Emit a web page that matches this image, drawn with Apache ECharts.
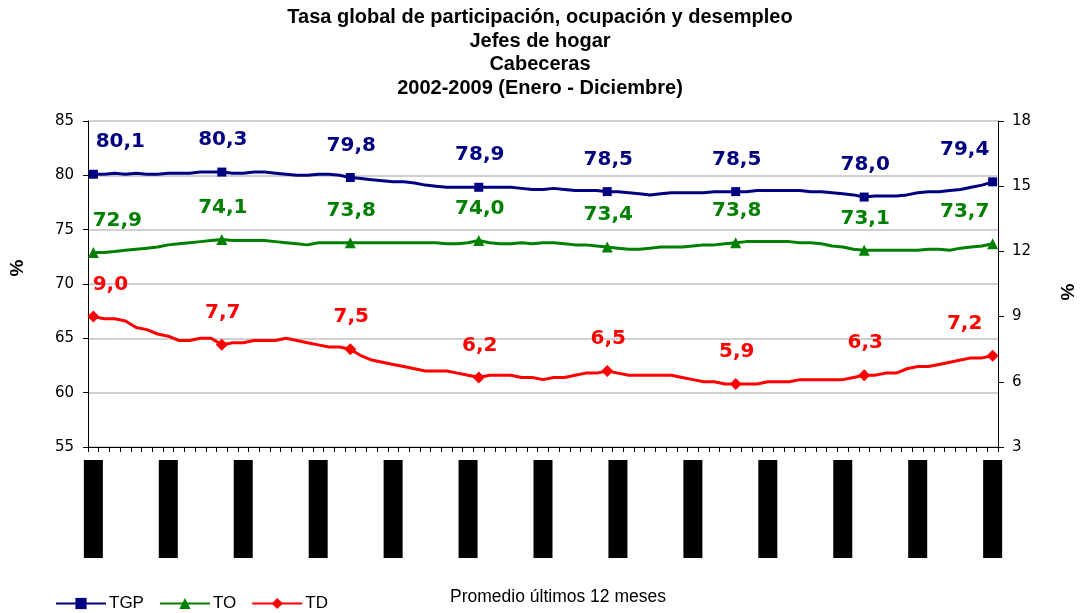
<!DOCTYPE html>
<html>
<head>
<meta charset="utf-8">
<script src="https://cdn.jsdelivr.net/npm/echarts@6/dist/echarts.min.js"></script>
<style>
  html, body { margin: 0; padding: 0; background: #fff; }
  #chart { width: 1080px; height: 613px; }
</style>
</head>
<body>
<div id="chart"></div>
<script>
// months shown on the axis: Dic 2002 .. Dic 2009 (rolling 12 month average)
var meses = ['Ene', 'Feb', 'Mar', 'Abr', 'May', 'Jun', 'Jul', 'Ago', 'Sep', 'Oct', 'Nov', 'Dic'];
var anios = ['03', '04', '05', '06', '07', '08', '09'];

var tgp = [
  80.1, 80.1, 80.2, 80.1, 80.2, 80.1, 80.1, 80.2, 80.2, 80.2, 80.3, 80.3, 80.3,
  80.2, 80.2, 80.3, 80.3, 80.2, 80.1, 80.0, 80.0, 80.1, 80.1, 80.0, 79.8,
  79.7, 79.6, 79.5, 79.4, 79.4, 79.3, 79.1, 79.0, 78.9, 78.9, 78.9, 78.9,
  78.9, 78.9, 78.9, 78.8, 78.7, 78.7, 78.8, 78.7, 78.6, 78.6, 78.6, 78.5,
  78.5, 78.4, 78.3, 78.2, 78.3, 78.4, 78.4, 78.4, 78.4, 78.5, 78.5, 78.5,
  78.5, 78.6, 78.6, 78.6, 78.6, 78.6, 78.5, 78.5, 78.4, 78.3, 78.2, 78.0,
  78.1, 78.1, 78.1, 78.2, 78.4, 78.5, 78.5, 78.6, 78.7, 78.9, 79.1, 79.4
];
var to = [
  72.9, 72.9, 73.0, 73.1, 73.2, 73.3, 73.4, 73.6, 73.7, 73.8, 73.9, 74.0, 74.1,
  74.0, 74.0, 74.0, 74.0, 73.9, 73.8, 73.7, 73.6, 73.8, 73.8, 73.8, 73.8,
  73.8, 73.8, 73.8, 73.8, 73.8, 73.8, 73.8, 73.8, 73.7, 73.7, 73.8, 74.0,
  73.8, 73.7, 73.7, 73.8, 73.7, 73.8, 73.8, 73.7, 73.6, 73.6, 73.5, 73.4,
  73.3, 73.2, 73.2, 73.3, 73.4, 73.4, 73.4, 73.5, 73.6, 73.6, 73.7, 73.8,
  73.9, 73.9, 73.9, 73.9, 73.9, 73.8, 73.8, 73.7, 73.5, 73.4, 73.2, 73.1,
  73.1, 73.1, 73.1, 73.1, 73.1, 73.2, 73.2, 73.1, 73.3, 73.4, 73.5, 73.7
];
var td = [
  9.0, 8.9, 8.9, 8.8, 8.5, 8.4, 8.2, 8.1, 7.9, 7.9, 8.0, 8.0, 7.7,
  7.8, 7.8, 7.9, 7.9, 7.9, 8.0, 7.9, 7.8, 7.7, 7.6, 7.6, 7.5,
  7.2, 7.0, 6.9, 6.8, 6.7, 6.6, 6.5, 6.5, 6.5, 6.4, 6.3, 6.2,
  6.3, 6.3, 6.3, 6.2, 6.2, 6.1, 6.2, 6.2, 6.3, 6.4, 6.4, 6.5,
  6.4, 6.3, 6.3, 6.3, 6.3, 6.3, 6.2, 6.1, 6.0, 6.0, 5.9, 5.9,
  5.9, 5.9, 6.0, 6.0, 6.0, 6.1, 6.1, 6.1, 6.1, 6.1, 6.2, 6.3,
  6.3, 6.4, 6.4, 6.6, 6.7, 6.7, 6.8, 6.9, 7.0, 7.1, 7.1, 7.2
];

var categorias = ['Dic 02'];
anios.forEach(function (a) {
  meses.forEach(function (m) { categorias.push(m + ' ' + a); });
});

function coma(v) {
  return v.toFixed(1).replace('.', ',');
}

// markers + labels only on each December
function buildData(values, symbol, size, color, firstDx) {
  var last = values.length - 1;
  return values.map(function (v, i) {
    if (i % 12 !== 0) return { value: v, symbol: 'none' };
    var dx = i === 0 ? firstDx : (i === last ? -28 : 1);
    return {
      value: v,
      symbol: symbol,
      symbolSize: size,
      label: {
        show: true,
        position: 'inside',
        offset: [dx, -32],
        formatter: function (p) { return coma(p.value); },
        color: color,
        fontFamily: 'DejaVu Sans',
        fontWeight: 'bold',
        fontSize: 20
      }
    };
  });
}

var myChart = echarts.init(document.getElementById('chart'));

var option = {
  animation: false,
  backgroundColor: '#fff',
  title: {
    text: 'Tasa global de participación, ocupación y desempleo\nJefes de hogar\nCabeceras\n2002-2009 (Enero - Diciembre)',
    left: 'center',
    top: 1,
    textStyle: {
      fontFamily: 'Liberation Sans',
      fontWeight: 'bold',
      fontSize: 20,
      lineHeight: 23.5,
      color: '#000'
    }
  },
  legend: {
    left: 50,
    top: 590,
    itemWidth: 50,
    itemHeight: 14,
    itemGap: 15,
    textStyle: { fontFamily: 'Liberation Sans', fontSize: 17, color: '#000', padding: [0, 0, 0, -2] },
    data: ['TGP', 'TO', 'TD']
  },
  grid: {
    left: 88,
    right: 82,
    top: 121,
    bottom: 166
  },
  xAxis: {
    type: 'category',
    boundaryGap: true,
    data: categorias,
    axisLine: { lineStyle: { color: '#000', width: 1 } },
    axisTick: { show: true, interval: 0, length: 5, lineStyle: { color: '#000' } },
    axisLabel: {
      interval: 6,
      rotate: 90,
      margin: 13,
      formatter: function (v) { return '{b|' + v + '}'; },
      rich: {
        b: {
          width: 98,
          height: 19,
          lineHeight: 19,
          backgroundColor: '#000',
          color: '#000',
          fontSize: 12
        }
      }
    }
  },
  yAxis: [
    {
      type: 'value',
      min: 55,
      max: 85,
      interval: 5,
      axisLine: { show: true, lineStyle: { color: '#000' } },
      axisTick: { show: true, length: 5, lineStyle: { color: '#000' } },
      axisLabel: { margin: 14, fontFamily: 'DejaVu Sans', fontSize: 15, color: '#000' },
      splitLine: { lineStyle: { color: '#c0c0c0', width: 1.5 } }
    },
    {
      type: 'value',
      min: 3,
      max: 18,
      interval: 3,
      position: 'right',
      axisLine: { show: true, lineStyle: { color: '#000' } },
      axisTick: { show: true, length: 6, lineStyle: { color: '#000' } },
      axisLabel: { margin: 14, fontFamily: 'DejaVu Sans', fontSize: 15, color: '#000' },
      splitLine: { show: false }
    }
  ],
  graphic: [
    {
      type: 'text', x: 18, y: 268, rotation: Math.PI / 2,
      style: { text: '%', fontFamily: 'Liberation Sans', fontWeight: 'bold', fontSize: 19, fill: '#000', align: 'center', verticalAlign: 'middle' }
    },
    {
      type: 'text', x: 1069, y: 292, rotation: Math.PI / 2,
      style: { text: '%', fontFamily: 'Liberation Sans', fontWeight: 'bold', fontSize: 19, fill: '#000', align: 'center', verticalAlign: 'middle' }
    },
    {
      type: 'text', x: 558, y: 597,
      style: { text: 'Promedio últimos 12 meses', fontFamily: 'Liberation Sans', fontSize: 17.5, fill: '#000', align: 'center', verticalAlign: 'middle' }
    }
  ],
  series: [
    {
      name: 'TGP',
      type: 'line',
      symbol: 'rect',
      symbolSize: 9,
      showAllSymbol: true,
      color: '#000080',
      lineStyle: { width: 3 },
      data: buildData(tgp, 'rect', 9, '#000080', 27)
    },
    {
      name: 'TO',
      type: 'line',
      symbol: 'triangle',
      symbolSize: 11,
      showAllSymbol: true,
      color: '#008000',
      lineStyle: { width: 3 },
      data: buildData(to, 'triangle', 11, '#008000', 24)
    },
    {
      name: 'TD',
      type: 'line',
      yAxisIndex: 1,
      symbol: 'diamond',
      symbolSize: 12,
      showAllSymbol: true,
      color: '#ff0000',
      lineStyle: { width: 3 },
      data: buildData(td, 'diamond', 12, '#ff0000', 17)
    }
  ]
};

myChart.setOption(option);
</script>
</body>
</html>
